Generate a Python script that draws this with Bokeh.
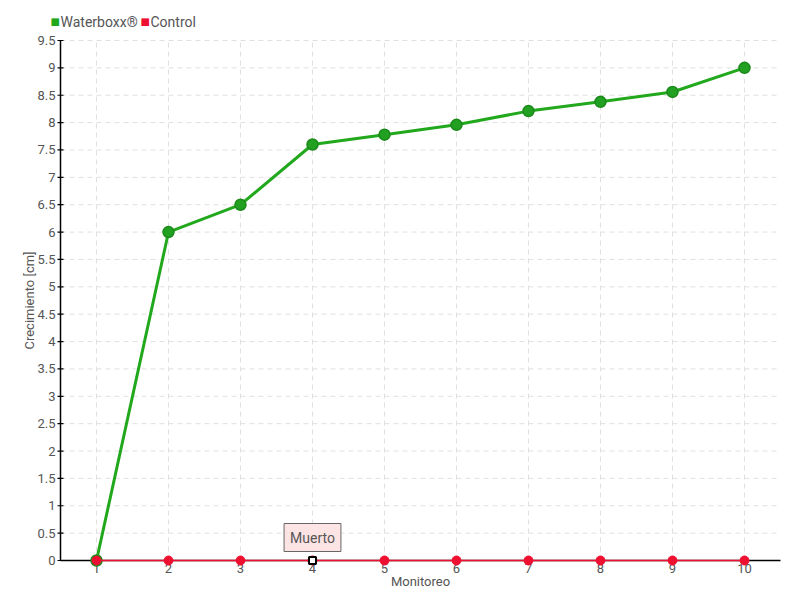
from math import pi
from bokeh.plotting import figure
from bokeh.models import Range1d, Label
from bokeh.core.properties import value
from bokeh.embed import file_html
from bokeh.resources import INLINE

monitoreo = [1, 2, 3, 4, 5, 6, 7, 8, 9, 10]
waterboxx = [0, 6.0, 6.5, 7.6, 7.78, 7.96, 8.21, 8.38, 8.56, 9.0]
control = [0, 0, 0, 0, 0, 0, 0, 0, 0, 0]
series_names = ["Waterboxx®", "Control"]
dead_idx = 3
dead_label = "Muerto"
y_ticks = [i * 0.5 for i in range(20)]
y_tick_labels = [f"{v:g}" for v in y_ticks]
x_tick_labels = [str(v) for v in monitoreo]
x_title = "Monitoreo"
y_title = "Crecimiento [cm]"

# data limits of the plot box
X_MIN, X_MAX = 0.5, 10.5
Y_MIN, Y_MAX = 0.0, 9.5
# pixel geometry of the plot box inside an 800x600 canvas
W, H = 800, 600
LEFT, RIGHT, TOP, BOTTOM = 60, 780, 40, 560

ux = (X_MAX - X_MIN) / (RIGHT - LEFT)
uy = (Y_MAX - Y_MIN) / (BOTTOM - TOP)
x_range = Range1d(X_MIN - LEFT * ux, X_MAX + (W - RIGHT) * ux)
y_range = Range1d(Y_MIN - (H - BOTTOM) * uy, Y_MAX + TOP * uy)

FONT = "Roboto"
TXT = "#555555"
GREEN = "#22a81c"
GREEN_DARK = "#1b8a1b"
RED = "#ee1030"
GRID = "#e0e0e0"

p = figure(width=W, height=H, output_backend="svg", toolbar_location=None,
           x_range=x_range, y_range=y_range, min_border=0,
           x_axis_location=None, y_axis_location=None)
p.outline_line_color = None
p.background_fill_color = "white"
for g in p.grid:
    g.visible = False

# grid
p.segment(x0=monitoreo, y0=[Y_MIN] * len(monitoreo), x1=monitoreo, y1=[Y_MAX] * len(monitoreo),
          line_color=GRID, line_width=1, line_dash="5 4")
p.segment(x0=[X_MIN] * len(y_ticks), y0=y_ticks, x1=[X_MAX] * len(y_ticks), y1=y_ticks,
          line_color=GRID, line_width=1, line_dash="5 4")

# axes
p.segment(x0=[X_MIN, X_MIN], y0=[Y_MIN, Y_MIN], x1=[X_MIN, X_MAX], y1=[Y_MAX, Y_MIN],
          line_color="black", line_width=1.5)
p.scatter(x=[X_MIN] * len(y_ticks), y=y_ticks, marker="dash", size=6,
          line_color="black", line_width=1.2)
p.text(x=[X_MIN] * len(y_ticks), y=y_ticks, text=y_tick_labels, x_offset=-5,
       text_align="right", text_baseline="middle", text_font=value(FONT),
       text_font_size="13px", text_color=TXT)
p.text(x=monitoreo, y=[Y_MIN] * len(monitoreo), text=x_tick_labels, y_offset=3,
       text_align="center", text_baseline="top", text_font=value(FONT),
       text_font_size="13px", text_color=TXT)
p.add_layout(Label(x=(X_MIN + X_MAX) / 2, y=Y_MIN, y_offset=-21, text=x_title,
                   text_align="center", text_baseline="middle",
                   text_font=FONT, text_font_size="13px", text_color=TXT))
p.add_layout(Label(x=X_MIN, y=(Y_MIN + Y_MAX) / 2, x_offset=-31, text=y_title, angle=pi / 2,
                   text_align="center", text_baseline="middle",
                   text_font=FONT, text_font_size="13px", text_color=TXT))

# data
p.line(monitoreo, waterboxx, line_color=GREEN, line_width=3)
p.scatter(monitoreo, waterboxx, size=11, fill_color="#22a022", line_color=GREEN_DARK, line_width=1.5)
p.line(monitoreo, control, line_color=RED, line_width=1.5)
p.scatter(monitoreo, control, size=9, fill_color=RED, line_color=RED)
p.scatter([monitoreo[dead_idx]], [control[dead_idx]], marker="square", size=7,
          fill_color="white", line_color="black", line_width=2)

p.add_layout(Label(x=monitoreo[dead_idx], y=control[dead_idx], text=dead_label,
                   text_align="center", text_baseline="bottom", y_offset=9,
                   text_font=FONT, text_font_size="14px", text_color=TXT,
                   background_fill_color="#fde4e4", border_line_color="#666666",
                   border_line_width=1, padding=6))

# legend drawn as labels anchored at the plot box's top-left corner
offsets = [-10, 80]
colors = [GREEN, RED]
for name, col, off in zip(series_names, colors, offsets):
    p.add_layout(Label(x=X_MIN, y=Y_MAX, x_offset=off, y_offset=19, text="■",
                       text_baseline="middle", text_align="left",
                       text_font="DejaVu Sans", text_font_size="10px", text_color=col))
    p.add_layout(Label(x=X_MIN, y=Y_MAX, x_offset=off + 10, y_offset=19, text=name,
                       text_baseline="middle", text_align="left",
                       text_font=FONT, text_font_size="14px", text_color=TXT))

open("out.html", "w").write(file_html(p, INLINE))
